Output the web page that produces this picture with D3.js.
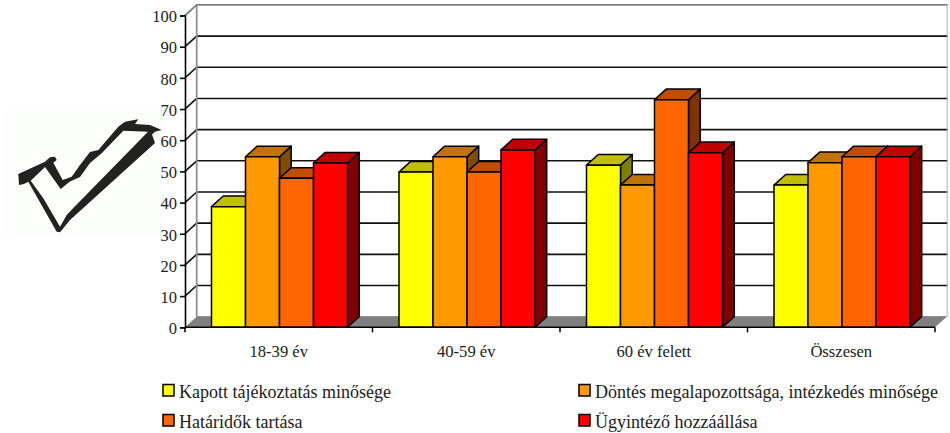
<!DOCTYPE html>
<html><head><meta charset="utf-8">
<script src="https://cdn.jsdelivr.net/npm/d3@7/dist/d3.min.js"></script>
<style>html,body{margin:0;padding:0;background:#fff}svg{display:block}text{font-family:"Liberation Serif",serif;font-size:16px;fill:#1c1c1c}</style>
</head><body><svg id="c" width="950" height="433"></svg>
<script>
const categories = ["18-39 év","40-59 év","60 év felett","Összesen"];
const seriesNames = ["Kapott tájékoztatás minősége","Döntés megalapozottsága, intézkedés minősége","Határidők tartása","Ügyintéző hozzáállása"];
const seriesFront = ["#ffff00","#ff9900","#ff6600","#ff0000"];
const seriesTop = ["#c0c000","#c07300","#c04d00","#c00000"];
const seriesSide = ["#808000","#804d00","#803300","#800000"];
const kapott = [38.7,49.8,52,45.6];
const dontes = [54.7,54.7,45.6,52.8];
const hataridok = [47.8,49.8,73,54.7];
const ugyintezo = [52.7,56.9,56,54.7];
const seriesValues = [kapott,dontes,hataridok,ugyintezo];
const yTicks = d3.range(0,101,10);

const svg = d3.select("#c");
const dx = 11.7, dy = 10.6;
const x = d3.scaleBand().domain(categories).range([185,935]);
const inner = d3.scaleBand().domain(d3.range(4)).range([26.5,x.step()-25]);
const y = d3.scaleLinear().domain([0,100]).range([327.3,15.5]);
const right = x.range()[1];

// check mark picture
svg.append("rect").attr("x",5).attr("y",110).attr("width",157).attr("height",128).attr("fill","#fcfefc");
svg.append("path").attr("fill-rule","evenodd").attr("fill","#23221e").attr("d",
 "M18.3,174 L45,161.7 L50,157.3 L55,156.7 L56.7,160 L53.3,162.7 L62.7,180 L71.7,176.7 L80,165 L90,152 L98.3,150 L118.3,126.7 L125,121.7 L138.3,119.3 L135,124 L150,125 L161.7,130 L155,131.7 L152,134.5 L155,143 L70,220 L60,232.3 L56.7,231.7 L28.3,181.7 L24,184 L19,185 Z " +
 "M30.7,180.7 L45,167 L60.7,189 L70,181.5 L80,177 L90,163 L101.7,153.3 L123.3,130.7 L148,131.7 L73.3,208 L66.7,215 L60,226.7 L43.3,198.3 Z");

// floor
svg.append("polygon").attr("fill","#808080").attr("points",[[x.range()[0],y(0)],[x.range()[0]+dx,y(0)-dy],[right+dx,y(0)-dy],[right,y(0)]].join(" "));

// walls and grid
const grid = svg.append("g");
grid.selectAll("line.g").data(yTicks.filter(d=>d>0&&d<100)).join("line")
  .attr("x1",x.range()[0]+dx).attr("x2",right+dx+1).attr("y1",d=>y(d)-dy).attr("y2",d=>y(d)-dy)
  .attr("stroke","#111").attr("stroke-width",1.6);
grid.selectAll("line.s").data(yTicks.filter(d=>d>0&&d<100)).join("line").attr("class","s")
  .attr("x1",x.range()[0]).attr("x2",x.range()[0]+dx).attr("y1",d=>y(d)).attr("y2",d=>y(d)-dy)
  .attr("stroke","#111").attr("stroke-width",1.6);
svg.append("polyline").attr("fill","none").attr("stroke","#808080").attr("stroke-width",1.8)
  .attr("points",[[x.range()[0],y(100)],[x.range()[0]+dx,y(100)-dy],[right+dx+1,y(100)-dy]].join(" "));
svg.append("line").attr("x1",x.range()[0]+dx).attr("x2",x.range()[0]+dx).attr("y1",y(100)-dy).attr("y2",y(0)-dy).attr("stroke","#909090").attr("stroke-width",1.8);
svg.append("line").attr("x1",right+dx+.5).attr("x2",right+dx+.5).attr("y1",y(100)-dy).attr("y2",y(0)-dy).attr("stroke","#b0b0b0").attr("stroke-width",1);
svg.append("line").attr("x1",x.range()[0]+dx).attr("x2",right+dx).attr("y1",y(0)-dy).attr("y2",y(0)-dy).attr("stroke","#808080");

// bars
const sw = 1.5, edge = "#000";
categories.forEach((c,ci)=>{
  const g = svg.append("g");
  seriesValues.forEach((vals,si)=>{
    const x0 = x(c)+inner(si), w = inner.bandwidth(), t = y(vals[ci]), b = y(0);
    const bar = g.append("g").attr("stroke",edge).attr("stroke-width",sw).attr("stroke-linejoin","round");
    bar.append("polygon").attr("fill",seriesSide[si]).attr("points",[[x0+w,t],[x0+w+dx,t-dy],[x0+w+dx,b-dy],[x0+w,b]].join(" "));
    bar.append("polygon").attr("fill",seriesTop[si]).attr("points",[[x0,t],[x0+dx,t-dy],[x0+w+dx,t-dy],[x0+w,t]].join(" "));
    bar.append("rect").attr("x",x0).attr("y",t).attr("width",w).attr("height",b-t).attr("fill",seriesFront[si]);
  });
});

// axes
const yAxis = svg.append("g").attr("transform",`translate(${x.range()[0]},0)`)
  .call(d3.axisLeft(y).tickValues(yTicks).tickSize(5).tickPadding(3));
const xPos = d3.range(5).map(i=>x.range()[0]+i*x.step());
svg.append("g").selectAll("line").data(xPos).join("line").attr("x1",d=>d).attr("x2",d=>d).attr("y1",y(0)).attr("y2",y(0)+5).attr("stroke","#000").attr("stroke-width",1.5);
svg.append("line").attr("x1",x.range()[0]).attr("x2",right).attr("y1",y(0)).attr("y2",y(0)).attr("stroke","#000").attr("stroke-width",1.5);
yAxis.selectAll("line,path").attr("stroke","#000").attr("stroke-width",1.6);
yAxis.selectAll("text").style("font-family","Liberation Serif").style("font-size","16.5px").attr("fill","#1c1c1c").attr("y",1);
svg.append("g").selectAll("text").data(categories).join("text")
  .attr("x",d=>x(d)+x.bandwidth()/2).attr("y",356.5).attr("text-anchor","middle").style("font-size","16.6px").text(d=>d);

// legend
const legendX = [163,579], legendY = [384.5,414.5];
seriesNames.forEach((n,i)=>{
  const lx = legendX[i%2], ly = legendY[Math.floor(i/2)];
  svg.append("rect").attr("x",lx).attr("y",ly).attr("width",11).attr("height",11.5).attr("fill",seriesFront[i]).attr("stroke","#000").attr("stroke-width",1.5);
  svg.append("text").attr("x",lx+16).attr("y",ly+13.5).style("font-size","18px").text(n);
});
</script></body></html>
